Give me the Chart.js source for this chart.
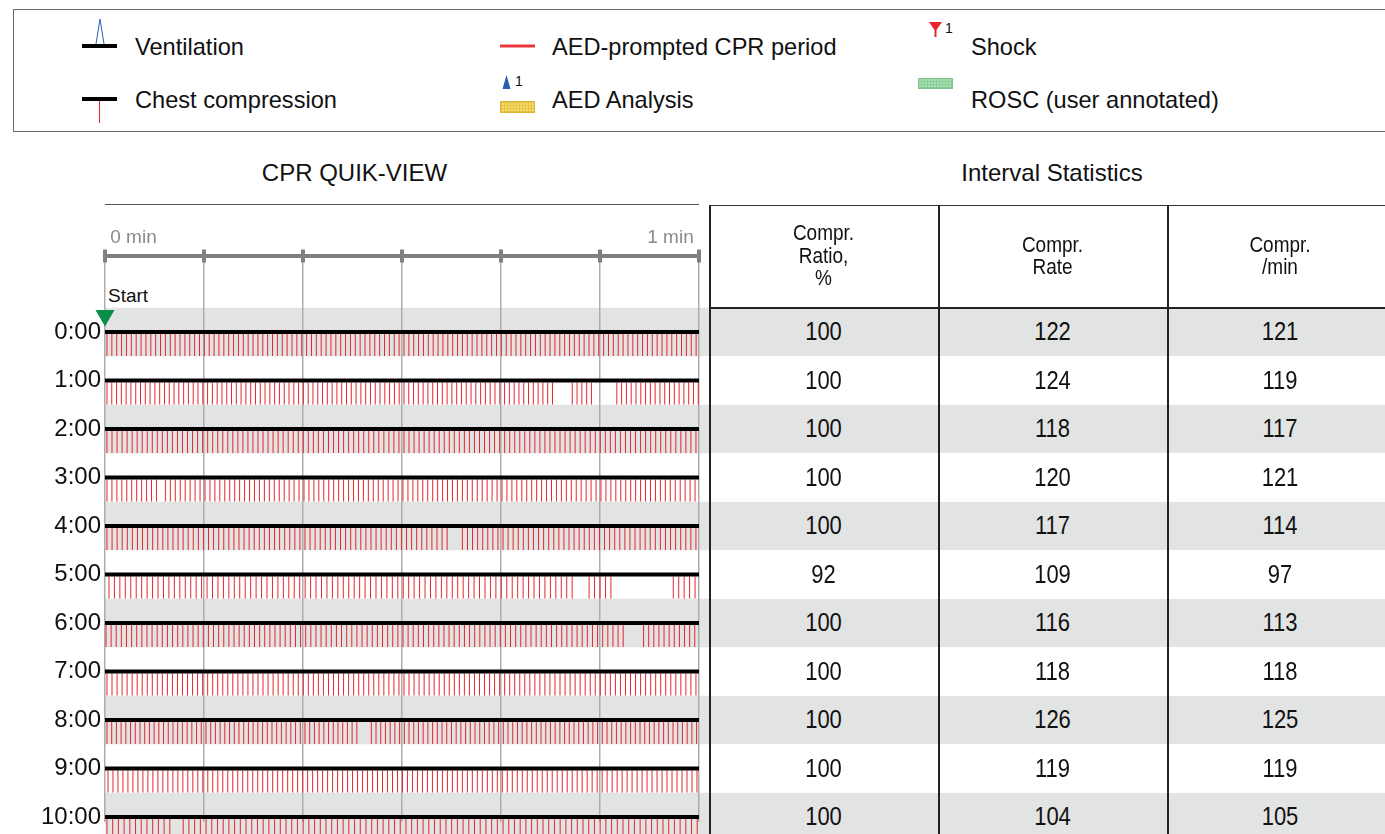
<!DOCTYPE html>
<html>
<head>
<meta charset="utf-8">
<script src="https://cdn.jsdelivr.net/npm/chart.js@4.4.1/dist/chart.umd.min.js"></script>
<style>
  html, body { margin:0; padding:0; background:#fff; width:1385px; height:834px; overflow:hidden;
    font-family:"Liberation Sans", Arial, Helvetica, sans-serif; color:#111; }
  .abs { position:absolute; }
  .lg { position:absolute; font-size:23.6px; height:28px; line-height:28px; white-space:nowrap; }
  .ttl { position:absolute; font-size:24px; height:30px; line-height:30px; white-space:nowrap; text-align:center; }
  .cell { position:absolute; display:flex; align-items:center; justify-content:center; text-align:center; }
  .val { font-size:22px; display:inline-block; transform:scaleY(1.14); }
  .hdr { font-size:19px; line-height:20px; display:inline-block; transform:scaleY(1.12); }
</style>
</head>
<body>

<!-- Legend box -->
<div class="abs" style="left:13px;top:9px;width:1380px;height:121px;border:1px solid #6b6b6b;border-right:none;"></div>
<svg class="abs" style="left:0;top:0" width="1385" height="140">
  <defs>
    <pattern id="py" width="3" height="3" patternUnits="userSpaceOnUse">
      <rect width="3" height="3" fill="#f7db62"/>
      <path d="M0 0.5H3M0.5 0V3" stroke="#d8b640" stroke-width="0.6"/>
    </pattern>
    <pattern id="pg" width="3" height="3" patternUnits="userSpaceOnUse">
      <rect width="3" height="3" fill="#aadfb4"/>
      <path d="M0 0.5H3M0.5 0V3" stroke="#72c286" stroke-width="0.6"/>
    </pattern>
  </defs>
  <rect x="82" y="44" width="35" height="4" fill="#000"/>
  <polyline points="96,44 100,19 104,44" fill="none" stroke="#2f5fb8" stroke-width="1"/>
  <rect x="82" y="97" width="35" height="4" fill="#000"/>
  <rect x="99" y="101" width="1" height="22" fill="#e8262d"/>
  <rect x="500" y="44.5" width="35" height="3" fill="#e8383d"/>
  <polygon points="506.5,75 502.5,89 510.5,89" fill="#2c5db5"/>
  <text x="515" y="86" font-size="14" font-family="Liberation Sans, Arial" fill="#111">1</text>
  <rect x="500.5" y="101.5" width="34" height="11" fill="url(#py)" stroke="#d9b53a" stroke-width="1"/>
  <polygon points="929,22 942,22 936.5,30 936.5,37 934.5,37 934.5,30" fill="#e8262d"/>
  <text x="945" y="33" font-size="14" font-family="Liberation Sans, Arial" fill="#111">1</text>
  <rect x="918.5" y="78.5" width="34" height="10" fill="url(#pg)" stroke="#7fc48f" stroke-width="1"/>
</svg>
<div class="lg" style="left:135px;top:33px">Ventilation</div>
<div class="lg" style="left:135px;top:86px">Chest compression</div>
<div class="lg" style="left:552px;top:33px">AED-prompted CPR period</div>
<div class="lg" style="left:552px;top:86px">AED Analysis</div>
<div class="lg" style="left:971px;top:33px">Shock</div>
<div class="lg" style="left:971px;top:86px">ROSC (user annotated)</div>

<!-- Titles -->
<div class="ttl" style="left:0;width:709px;top:158px">CPR QUIK-VIEW</div>
<div class="ttl" style="left:709px;width:686px;top:158px">Interval Statistics</div>

<!-- Quik-view panel top rule -->
<div class="abs" style="left:105px;top:204px;width:594px;height:1px;background:#555"></div>
<div class="abs" style="left:108px;top:284px;font-size:19px;line-height:24px;height:24px">Start</div>

<canvas id="c" width="711" height="628" style="position:absolute;left:0;top:206px"></canvas>
<div id="tableLayer"></div>

<script>
// ---------------- DATA ----------------
const rowLabels   = ['0:00','1:00','2:00','3:00','4:00','5:00','6:00','7:00','8:00','9:00','10:00'];
const comprRatio  = [100, 100, 100, 100, 100, 92, 100, 100, 100, 100, 100];
const comprRate   = [122, 124, 118, 120, 117, 109, 116, 118, 126, 119, 104];
const comprPerMin = [121, 119, 117, 121, 114, 97, 113, 118, 125, 119, 105];
// compression activity spans within each minute row, seconds
const activeSpans = [
  [[0.2, 60]],
  [[0.2, 45.6], [47.2, 49.6], [51.7, 60]],
  [[0.2, 60]],
  [[0.2, 5.4], [6.1, 60]],
  [[0.2, 34.9], [36.1, 60]],
  [[0.4, 47.3], [48.9, 51.6], [57.4, 60]],
  [[0.1, 52.7], [54.4, 60]],
  [[0.2, 60]],
  [[0.2, 25.7], [26.9, 60]],
  [[0.3, 60]],
  [[0.2, 6.7], [7.9, 60]]
];
const axisTickSec  = [0, 10, 20, 30, 40, 50, 60];
const axisTickText = {0: ' 0 min', 60: '1 min '};
const headerLabels = [['Compr.', 'Ratio,', '%'], ['Compr.', 'Rate'], ['Compr.', '/min']];
const startMarkSec = 0;

// ---------------- STYLE / LAYOUT CONSTANTS ----------------
const FONT = '"Liberation Sans", Arial, sans-serif';
const BAND = '#e2e3e3';
const TICK_RED = '#e8262d';
const CANVAS_TOP = 206;
const ROW0_PX = 126, ROW10_PX = 611;          // wanted canvas y of first / last row line
const ROW_PX = (ROW10_PX - ROW0_PX) / 10;      // 48.5 px per row
const TICK_OFFSET = 13 / ROW_PX;               // compression tick centre below the row line
const START_OFFSET = -0.34;                    // start marker above row 0
let yMin = -76 / ROW_PX, yMax = 10 + 17 / ROW_PX;

// compression ticks built from the rate of each row, inside the active spans
const comprTicks = [];
rowLabels.forEach((_, r) => {
  const step = 60 / comprRate[r];
  activeSpans[r].forEach(([a, b]) => {
    for (let k = 0; a + k * step <= b + 1e-6; k++) {
      comprTicks.push({x: a + k * step, y: r + TICK_OFFSET});
    }
  });
});

const rowLineSets = rowLabels.map((lab, r) => ({
  type: 'scatter', label: lab, showLine: true, clip: false,
  data: [{x: 0, y: r}, {x: 60, y: r}],
  borderColor: '#000', borderWidth: 4, borderCapStyle: 'butt',
  pointRadius: 0, pointHoverRadius: 0, order: 0
}));

const bandPlugin = {
  id: 'bands',
  beforeDraw(chart) {
    const {ctx, chartArea, scales: {y}} = chart;
    const half = Math.abs(y.getPixelForValue(0.5) - y.getPixelForValue(0));
    ctx.save();
    ctx.fillStyle = BAND;
    rowLabels.forEach((_, i) => {
      if (i % 2 === 0) {
        const py = y.getPixelForValue(i);
        ctx.fillRect(chartArea.left, py - half, chartArea.right + 10 - chartArea.left, 2 * half);
      }
    });
    ctx.restore();
  }
};

const axisMarkSet = {
  label: 'axis marks', data: axisTickSec.map(s => ({x: s, y: yMin})), clip: false,
  pointStyle: 'line', pointRotation: 90, pointRadius: 6.5, pointHoverRadius: 6.5,
  pointBorderWidth: 4, pointBorderColor: '#7f8181', order: 0
};

const chart = new Chart(document.getElementById('c'), {
  type: 'scatter',
  data: {
    datasets: [
      ...rowLineSets,
      {
        label: 'Chest compression', data: comprTicks, clip: false,
        pointStyle: 'line', pointRotation: 90, pointRadius: 11, pointHoverRadius: 11,
        pointBorderWidth: 1, pointBorderColor: TICK_RED, order: 2
      },
      axisMarkSet,
      {
        label: 'Start', data: [{x: startMarkSec, y: START_OFFSET}], clip: false,
        pointStyle: 'triangle', pointRotation: 180, pointRadius: 11, pointHoverRadius: 11,
        pointBorderWidth: 0, pointBackgroundColor: '#0a8f48', pointBorderColor: '#0a8f48', order: 0
      }
    ]
  },
  options: {
    responsive: false, animation: false, devicePixelRatio: 1, events: [],
    layout: {padding: {left: 0, right: 10, top: 0, bottom: 0}},
    plugins: {legend: {display: false}, tooltip: {enabled: false}},
    scales: {
      x: {
        type: 'linear', position: 'top', min: 0, max: 60,
        afterBuildTicks: s => { s.ticks = axisTickSec.map(v => ({value: v})); },
        afterFit: s => { s.height = 50; s.paddingLeft = 0; s.paddingRight = 0; },
        grid: {color: '#adadad', lineWidth: 1.5, drawTicks: false},
        border: {display: true, color: '#7f8181', width: 4},
        ticks: {
          autoSkip: false, maxRotation: 0, minRotation: 0, align: 'inner', padding: 7,
          color: '#8a8a8a', font: {family: FONT, size: 19},
          callback: v => axisTickText[v] ?? ''
        }
      },
      y: {
        type: 'linear', reverse: true, min: yMin, max: yMax,
        afterBuildTicks: s => { s.ticks = rowLabels.map((_, i) => ({value: i})); },
        afterFit: s => { s.width = 105; s.paddingTop = 0; s.paddingBottom = 0; },
        grid: {display: false, drawTicks: false}, border: {display: false},
        ticks: {
          autoSkip: false, padding: 4, color: '#111', font: {family: FONT, size: 24},
          callback: v => rowLabels[v] ?? ''
        }
      }
    }
  },
  plugins: [bandPlugin]
});

// second pass: fit the row range to the measured plot area so rows sit 48.5 px apart
(function fitRows() {
  const ca = chart.chartArea;
  yMin = -(ROW0_PX - ca.top) / ROW_PX;
  yMax = 10 + (ca.bottom - ROW10_PX) / ROW_PX;
  chart.options.scales.y.min = yMin;
  chart.options.scales.y.max = yMax;
  axisMarkSet.data = axisTickSec.map(s => ({x: s, y: yMin}));
  chart.update();
})();

// ---------------- Interval statistics table (rows aligned to the chart's y scale) ----------------
(function buildTable() {
  const layer = document.getElementById('tableLayer');
  const ys = chart.scales.y;
  const half = Math.abs(ys.getPixelForValue(0.5) - ys.getPixelForValue(0));
  const colLeft = [709, 938, 1167];
  const colWidth = [229, 229, 226];
  const cols = [comprRatio, comprRate, comprPerMin];
  const headTop = 205, headBottom = CANVAS_TOP + ys.getPixelForValue(0) - half;
  let html = '';
  rowLabels.forEach((_, r) => {
    const top = CANVAS_TOP + ys.getPixelForValue(r) - half;
    if (r % 2 === 0) html += `<div class="abs" style="left:709px;top:${top}px;width:676px;height:${2*half}px;background:${BAND}"></div>`;
  });
  headerLabels.forEach((lines, c) => {
    html += `<div class="cell" style="left:${colLeft[c]}px;top:${headTop}px;width:${colWidth[c]}px;height:${headBottom-headTop}px"><span class="hdr">${lines.join('<br>')}</span></div>`;
  });
  rowLabels.forEach((_, r) => {
    const top = CANVAS_TOP + ys.getPixelForValue(r) - half;
    cols.forEach((arr, c) => {
      html += `<div class="cell" style="left:${colLeft[c]}px;top:${top}px;width:${colWidth[c]}px;height:${2*half}px"><span class="val">${arr[r]}</span></div>`;
    });
  });
  // rules
  html += `<div class="abs" style="left:709px;top:${headTop}px;width:676px;height:1px;background:#333"></div>`;
  html += `<div class="abs" style="left:709px;top:${headBottom-1}px;width:676px;height:2px;background:#222"></div>`;
  colLeft.forEach(x => {
    html += `<div class="abs" style="left:${x}px;top:${headTop}px;width:1.5px;height:${834-headTop}px;background:#222"></div>`;
  });
  layer.innerHTML = html;
})();
</script>
</body>
</html>
